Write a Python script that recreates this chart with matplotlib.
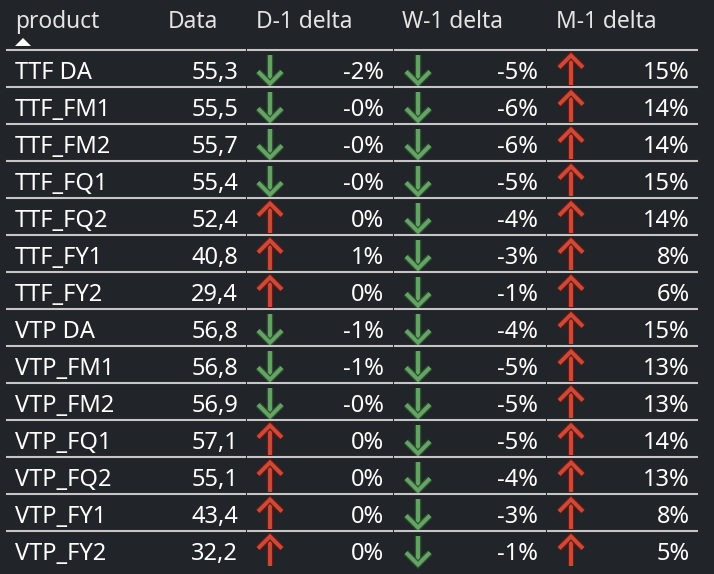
import matplotlib
matplotlib.use('Agg')
import matplotlib.pyplot as plt
import matplotlib.patheffects as pe

plt.rcParams['font.family'] = ['Noto Sans', 'DejaVu Sans']

# ── data ──────────────────────────────────────────────────────────
products = ['TTF DA', 'TTF_FM1', 'TTF_FM2', 'TTF_FQ1', 'TTF_FQ2', 'TTF_FY1', 'TTF_FY2',
            'VTP DA', 'VTP_FM1', 'VTP_FM2', 'VTP_FQ1', 'VTP_FQ2', 'VTP_FY1', 'VTP_FY2']
data_vals = [55.3, 55.5, 55.7, 55.4, 52.4, 40.8, 29.4,
             56.8, 56.8, 56.9, 57.1, 55.1, 43.4, 32.2]
d1_delta = [-2, -0.4, -0.3, -0.2, 0.3, 1, 0.4, -1, -1, -0.2, 0.3, 0.2, 0.2, 0.3]
w1_delta = [-5, -6, -6, -5, -4, -3, -1, -4, -5, -5, -5, -4, -3, -1]
m1_delta = [15, 14, 14, 15, 14, 8, 6, 15, 13, 13, 14, 13, 8, 5]
headers = ['product', 'Data', 'D-1 delta', 'W-1 delta', 'M-1 delta']

# ── layout (pixels) ───────────────────────────────────────────────
W, H = 714, 574
bg = '#212428'
txt = '#ffffff'
hdr = '#e4e4e4'
sep = '#c6c6c6'
green, green_dk = '#66a466', '#2c5230'
red, red_dk = '#cc4a38', '#6a1810'

top = 50
row_h = 37
fs = 17

fig = plt.figure(figsize=(W / 100, H / 100), dpi=100, facecolor=bg)
ax = fig.add_axes([0, 0, 1, 1])
ax.set_xlim(0, W)
ax.set_ylim(H, 0)
ax.axis('off')
ax.set_facecolor(bg)

# headers
hx = [15, 218, 256, 402, 556]
ha = ['left', 'right', 'left', 'left', 'left']
for h, x, a in zip(headers, hx, ha):
    ax.text(x, 28.5, h, color=hdr, fontsize=fs - 0.6, ha=a, va='baseline')
ax.fill([15, 23, 31], [46, 38, 46], color='white', lw=0)

# separators (with small gaps at column bounds)
col_bounds = [5, 246, 393, 546, 698]


def hline(y):
    for x0, x1 in zip(col_bounds[:-1], col_bounds[1:]):
        ax.plot([x0 + 0.5, x1 - 0.5], [y, y], color=sep, lw=1.5, solid_capstyle='butt')


hline(top)


def arrow(cx, cy, up):
    fc, ec = (red, red_dk) if up else (green, green_dk)
    s = -1 if up else 1
    y0, y1 = cy - s * 15, cy + s * 14
    effects = [pe.Stroke(linewidth=4.6, foreground=ec), pe.Normal()]
    ax.plot([cx, cx], [y0, y1 - s * 1.5], color=fc, lw=2.8,
            solid_capstyle='butt', path_effects=effects)
    ax.plot([cx - 12, cx, cx + 12], [y1 - s * 12, y1, y1 - s * 12], color=fc, lw=2.8,
            solid_joinstyle='miter', solid_capstyle='butt', path_effects=effects)


for i, p in enumerate(products):
    y_top = top + row_h * i
    cy = y_top + row_h / 2 + 1
    base = y_top + 28.7
    ax.text(15, base, p, color=txt, fontsize=fs, ha='left', va='baseline')
    ax.text(238, base, f'{data_vals[i]:.1f}'.replace('.', ','), color=txt,
            fontsize=fs, ha='right', va='baseline')
    for d, ax_x, vx in [(d1_delta[i], 270, 384), (w1_delta[i], 418, 538), (m1_delta[i], 571, 690)]:
        arrow(ax_x, cy, d > 0)
        ax.text(vx, base, f'{d:.0f}%', color=txt, fontsize=fs, ha='right', va='baseline')
    if i < len(products) - 1:
        hline(top + row_h * (i + 1))

fig.savefig('out.png', dpi=100, facecolor=bg)
